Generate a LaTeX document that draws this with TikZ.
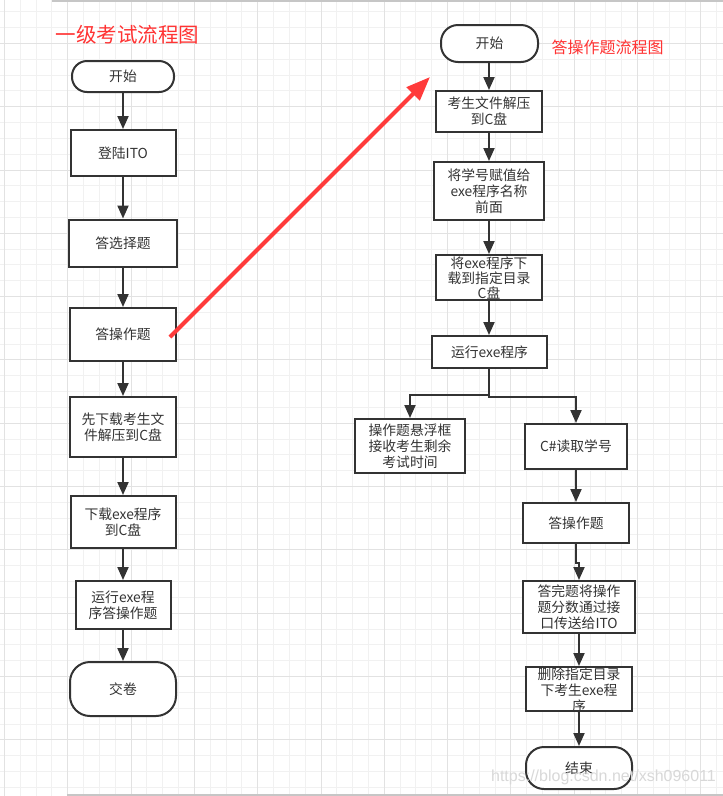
\documentclass[tikz,border=0pt]{standalone}
\usepackage{fontspec}
\setmainfont{Noto Sans CJK SC}
\newfontfamily\wmfont{Liberation Sans}
\usetikzlibrary{arrows.meta}
\definecolor{ink}{HTML}{333333}
\definecolor{gridminor}{HTML}{F1F1F1}
\definecolor{gridmajor}{HTML}{E2E2E2}
\definecolor{titlered}{HTML}{FF3333}
\definecolor{arrowred}{HTML}{FF3B3B}
\definecolor{wmgray}{HTML}{D8D8D8}
\begin{document}
\begin{tikzpicture}[x=1pt,y=-1pt,
  box/.style={draw=ink, line width=2pt, fill=white, text=ink, inner sep=0pt, align=center, font=\fontsize{13.8}{16}\selectfont},
  term/.style={box, rounded corners=15pt},
  plaintext/.style={text=ink, inner sep=0pt, align=center, font=\fontsize{13.8}{16}\selectfont},
  flow/.style={draw=ink, line width=2pt, -{Triangle[width=11pt,length=13pt]}},
  redarrow/.style={draw=arrowred, line width=4pt, -{Triangle[width=18pt,length=24pt]}},
  title/.style={text=titlered, inner sep=0pt}]
\useasboundingbox (0,0) rectangle (723,796);
\fill[white] (0,0) rectangle (723,796);
% grid
\foreach \k in {0,...,45} {\draw[gridminor, line width=1pt] ({4.4+\k*15.83},0) -- ({4.4+\k*15.83},796);}
\foreach \k in {0,...,49} {\draw[gridminor, line width=1pt] (0,{11.7+\k*15.83}) -- (723,{11.7+\k*15.83});}
\foreach \k in {0,4,...,44} {\draw[gridmajor, line width=1pt] ({4.4+\k*15.83},0) -- ({4.4+\k*15.83},796);}
\foreach \k in {2,6,...,49} {\draw[gridmajor, line width=1pt] (0,{11.7+\k*15.83}) -- (723,{11.7+\k*15.83});}
\draw[gray!45, line width=1.5pt] (52,1) -- (723,1);
\draw[gray!45, line width=2pt] (67,794.5) -- (723,794.5);

% titles
\node[title, font=\fontsize{20.5}{24}\selectfont] (t1) at (127.5,35) {一级考试流程图};
\node[title, font=\fontsize{16}{19}\selectfont] (t2) at (607.5,47) {答操作题流程图};

% left column
\node[term, minimum width=102pt, minimum height=31pt] (l0) at (123,76.5) {开始};
\node[box, minimum width=105pt, minimum height=46pt] (l1) at (123,153) {登陆ITO};
\node[box, minimum width=108pt, minimum height=47pt] (l2) at (123,243) {答选择题};
\node[box, minimum width=106pt, minimum height=53pt] (l3) at (123,334.5) {答操作题};
\node[box, minimum width=106pt, minimum height=60pt] (l4) at (123,427) {先下载考生文\\件解压到C盘};
\node[box, minimum width=105pt, minimum height=52pt] (l5) at (123,522) {下载exe程序\\到C盘};
\node[box, minimum width=95pt, minimum height=48pt] (l6) at (123,605) {运行exe程\\序答操作题};
\node[box, rounded corners=20pt, minimum width=106pt, minimum height=54pt] (l7) at (123,689) {交卷};

\draw[flow] (l0) -- (l1);
\draw[flow] (l1) -- (l2);
\draw[flow] (l2) -- (l3);
\draw[flow] (l3) -- (l4);
\draw[flow] (l4) -- (l5);
\draw[flow] (l5) -- (l6);
\draw[flow] (l6) -- (l7);

% right column
\node[term, rounded corners=17pt, minimum width=97pt, minimum height=37pt] (r0) at (489.5,43.5) {开始};
\node[box, minimum width=106pt, minimum height=41pt] (r1) at (489,111.5) {考生文件解压\\到C盘};
\node[box, minimum width=110pt, minimum height=58pt] (r2) at (489,191) {将学号赋值给\\exe程序名称\\前面};
\node[box, minimum width=106pt, minimum height=45pt] (r3) at (489,277.5) {};
\node[plaintext, font=\fontsize{13.8}{15}\selectfont] (r3t) at (489,278.5) {将exe程序下\\载到指定目录\\C盘};
\node[box, minimum width=115pt, minimum height=32pt] (r4) at (489.5,352) {运行exe程序};
\node[box, minimum width=110pt, minimum height=54pt] (r5) at (410,446) {操作题悬浮框\\接收考生剩余\\考试时间};
\node[box, minimum width=102pt, minimum height=45pt] (r6) at (576,446.5) {C\#读取学号};
\node[box, minimum width=106pt, minimum height=40pt] (r7) at (576,523) {答操作题};
\node[box, minimum width=112pt, minimum height=52pt] (r8) at (579,607) {答完题将操作\\题分数通过接\\口传送给ITO};
\node[box, minimum width=106pt, minimum height=44pt] (r9) at (579,689) {};
\node[plaintext] (r9t) at (579,690.5) {删除指定目录\\下考生exe程\\序};
\node[box, rounded corners=18pt, minimum width=106pt, minimum height=42pt] (r10) at (579,768) {结束};

\draw[flow] (r0.south -| r1.north) -- (r1.north);
\draw[flow] (r1) -- (r2);
\draw[flow] (r2) -- (r3);
\draw[flow] (r3.south) -- (r3.south |- r4.north);
\draw[flow] (r4.south -| r3.south) -- ++(0,26) -| (r5.north);
\draw[flow] (r4.south -| r3.south) -- ++(0,28) -| (r6.north);
\draw[flow] (r6) -- (r7);
\draw[flow] (r7.south) -- ++(0,19) -| (r8.north);
\draw[flow] (r8) -- (r9);
\draw[flow] (r9) -- (r10);

% red arrow
\coordinate (ra) at (170,337);
\coordinate (rb) at (430,77);
\draw[redarrow] (ra) -- (rb);

% watermark
\node[text=wmgray, inner sep=0pt, font=\wmfont\fontsize{16}{18}\selectfont] (wm) at (603.5,777) {https://blog.csdn.net/xsh096011};
\end{tikzpicture}
\end{document}
